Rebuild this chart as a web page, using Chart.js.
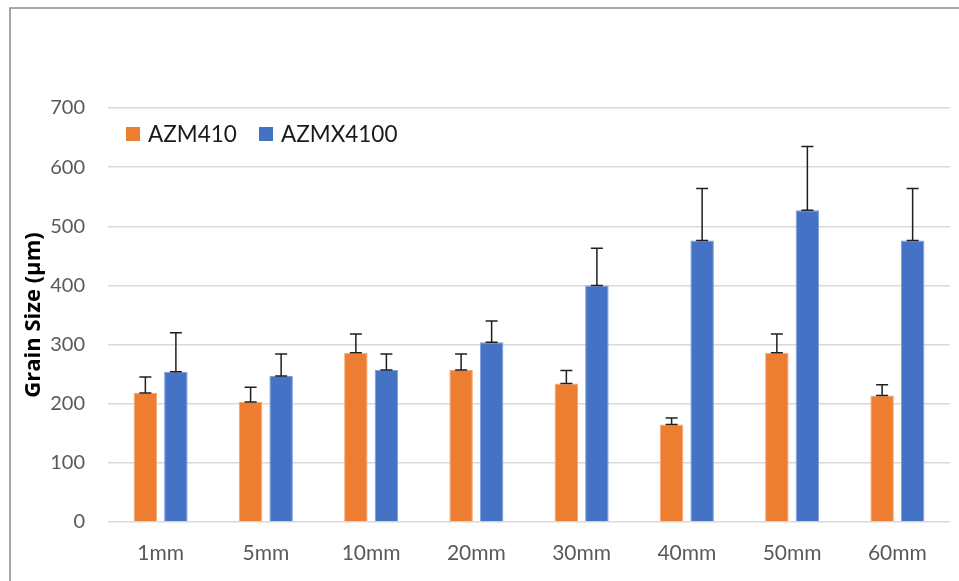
<!DOCTYPE html>
<html>
<head>
<meta charset="utf-8">
<script src="https://cdn.jsdelivr.net/npm/chart.js@4.4.1/dist/chart.umd.min.js"></script>
<style>
  html, body { margin: 0; padding: 0; background: #ffffff; }
  #wrap { width: 959px; height: 581px; position: relative; }
</style>
</head>
<body>
<div id="wrap"><canvas id="grain"></canvas></div>
<script>
// Sample positions along the part
const categories = ['1mm', '5mm', '10mm', '20mm', '30mm', '40mm', '50mm', '60mm'];

// Mean grain size (µm) and standard deviation per alloy
const azm410 = [218, 203, 286, 257, 234, 165, 286, 214];
const azm410Err = [27, 25, 32, 27, 22, 11, 32, 18];
const azmx4100 = [254, 247, 257, 304, 400, 476, 527, 476];
const azmx4100Err = [66, 37, 27, 36, 63, 88, 108, 88];

const seriesNames = ['AZM410', 'AZMX4100'];
const yTicks = [0, 100, 200, 300, 400, 500, 600, 700];

const ORANGE = '#ED7D31';
const BLUE = '#4472C4';

// Positive error bars with caps, drawn from each bar's top
const errorBars = {
  id: 'errorBars',
  afterDatasetsDraw(chart) {
    const ctx = chart.ctx;
    const y = chart.scales.y;
    ctx.save();
    ctx.strokeStyle = '#1f1f1f';
    ctx.lineWidth = 1.5;
    chart.data.datasets.forEach((ds, i) => {
      const meta = chart.getDatasetMeta(i);
      meta.data.forEach((bar, j) => {
        const top = y.getPixelForValue(ds.data[j] + ds.errors[j]);
        const base = bar.y;
        const cap = 6;
        ctx.beginPath();
        ctx.moveTo(bar.x, base);
        ctx.lineTo(bar.x, top);
        ctx.moveTo(bar.x - cap, top);
        ctx.lineTo(bar.x + cap, top);
        ctx.moveTo(bar.x - cap, base);
        ctx.lineTo(bar.x + cap, base);
        ctx.stroke();
      });
    });
    ctx.restore();
  }
};

// Inline legend in the upper left of the plot, plus the outer frame
const decorations = {
  id: 'decorations',
  afterDraw(chart) {
    const ctx = chart.ctx;
    ctx.save();
    // frame
    ctx.strokeStyle = '#8a8a8a';
    ctx.lineWidth = 1.5;
    ctx.beginPath();
    ctx.moveTo(10, 581);
    ctx.lineTo(10, 8);
    ctx.lineTo(959, 8);
    ctx.stroke();
    // legend
    const items = [
      { x: 126, color: ORANGE },
      { x: 259, color: BLUE }
    ];
    ctx.font = '22.5px Lato';
    ctx.textBaseline = 'middle';
    ctx.textAlign = 'left';
    items.forEach((it, k) => {
      ctx.fillStyle = it.color;
      ctx.fillRect(it.x, 127, 14, 14);
      ctx.fillStyle = '#1a1a1a';
      ctx.fillText(chart.data.datasets[k].label, it.x + 22, 135);
    });
    ctx.restore();
  }
};

new Chart(document.getElementById('grain'), {
  type: 'bar',
  data: {
    labels: categories,
    datasets: [
      {
        label: seriesNames[0],
        data: azm410,
        errors: azm410Err,
        backgroundColor: ORANGE,
        borderColor: '#F3A776',
        borderWidth: 1
      },
      {
        label: seriesNames[1],
        data: azmx4100,
        errors: azmx4100Err,
        backgroundColor: BLUE,
        borderColor: '#7D9DD8',
        borderWidth: 1
      }
    ]
  },
  options: {
    responsive: true,
    maintainAspectRatio: false,
    animation: false,
    categoryPercentage: 0.58,
    barPercentage: 0.77,
    layout: { padding: { left: 0, top: 108, right: 9, bottom: 0 } },
    plugins: {
      legend: { display: false },
      tooltip: { enabled: false }
    },
    scales: {
      x: {
        grid: { display: false },
        border: { display: false },
        ticks: {
          color: '#595959',
          font: { family: 'Lato', size: 21 },
          padding: 11
        },
        afterFit(scale) { scale.height = 59; }
      },
      y: {
        min: 0,
        max: 700,
        afterBuildTicks(scale) { scale.ticks = yTicks.map(v => ({ value: v })); },
        grid: { color: '#d9d9d9', lineWidth: 1.5, drawTicks: false },
        border: { display: false },
        ticks: {
          color: '#595959',
          font: { family: 'Lato', size: 20 },
          padding: 23
        },
        title: {
          display: true,
          text: 'Grain Size (µm)',
          color: '#000000',
          font: { family: 'Open Sans', size: 22, weight: 'bold' },
          padding: { top: 21, bottom: 0 }
        },
        afterFit(scale) { scale.width = 108; }
      }
    }
  },
  plugins: [errorBars, decorations]
});
</script>
</body>
</html>
